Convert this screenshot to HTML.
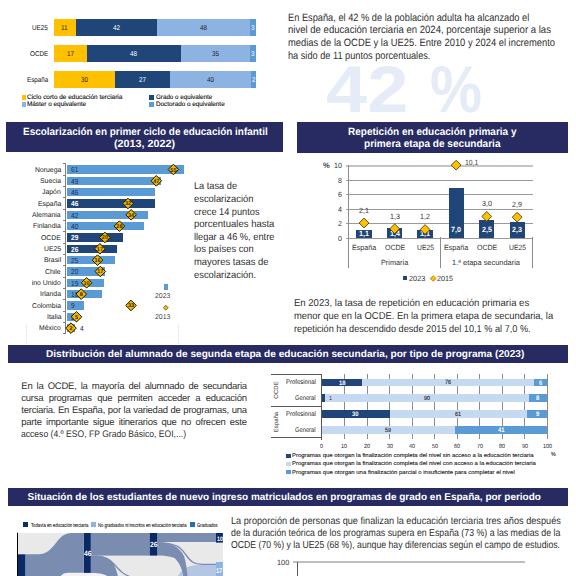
<!DOCTYPE html><html><head><meta charset="utf-8"><style>
html,body{margin:0;padding:0;width:576px;height:576px;overflow:hidden;background:#fff;font-family:"Liberation Sans", sans-serif;}
.t{position:absolute;white-space:nowrap;}
body{text-rendering:geometricPrecision;}
svg{position:absolute;left:0;top:0;}
</style></head><body>
<div class="t" style="left:32.49px;top:25.00px;font-size:7px;line-height:7px;color:#111;font-weight:normal;transform:scaleX(0.9000);transform-origin:0 0;">UE25</div>
<div style="position:absolute;left:54.00px;top:19.00px;width:21.50px;height:17.00px;background:#ffc000;"></div>
<div class="t" style="left:61.48px;top:25.00px;font-size:7px;line-height:7px;color:#222;font-weight:normal;transform:scaleX(0.9000);transform-origin:0 0;">11</div>
<div style="position:absolute;left:75.50px;top:19.00px;width:81.25px;height:17.00px;background:#1f4579;"></div>
<div class="t" style="left:112.62px;top:25.00px;font-size:7px;line-height:7px;color:#fff;font-weight:normal;transform:scaleX(0.9000);transform-origin:0 0;">42</div>
<div style="position:absolute;left:156.75px;top:19.00px;width:93.25px;height:17.00px;background:#8db3e2;"></div>
<div class="t" style="left:199.87px;top:25.00px;font-size:7px;line-height:7px;color:#222;font-weight:normal;transform:scaleX(0.9000);transform-origin:0 0;">48</div>
<div style="position:absolute;left:250.00px;top:19.00px;width:5.50px;height:17.00px;background:#5b9bd5;"></div>
<div class="t" style="left:251.00px;top:25.00px;font-size:7px;line-height:7px;color:#fff;font-weight:normal;transform:scaleX(0.9000);transform-origin:0 0;">3</div>
<div class="t" style="left:30.05px;top:51.00px;font-size:7px;line-height:7px;color:#111;font-weight:normal;transform:scaleX(0.9000);transform-origin:0 0;">OCDE</div>
<div style="position:absolute;left:54.00px;top:45.00px;width:32.75px;height:17.00px;background:#ffc000;"></div>
<div class="t" style="left:66.87px;top:51.00px;font-size:7px;line-height:7px;color:#222;font-weight:normal;transform:scaleX(0.9000);transform-origin:0 0;">17</div>
<div style="position:absolute;left:86.75px;top:45.00px;width:94.00px;height:17.00px;background:#1f4579;"></div>
<div class="t" style="left:130.25px;top:51.00px;font-size:7px;line-height:7px;color:#fff;font-weight:normal;transform:scaleX(0.9000);transform-origin:0 0;">48</div>
<div style="position:absolute;left:180.75px;top:45.00px;width:69.25px;height:17.00px;background:#8db3e2;"></div>
<div class="t" style="left:211.87px;top:51.00px;font-size:7px;line-height:7px;color:#222;font-weight:normal;transform:scaleX(0.9000);transform-origin:0 0;">35</div>
<div style="position:absolute;left:250.00px;top:45.00px;width:5.50px;height:17.00px;background:#5b9bd5;"></div>
<div class="t" style="left:251.00px;top:51.00px;font-size:7px;line-height:7px;color:#fff;font-weight:normal;transform:scaleX(0.9000);transform-origin:0 0;">3</div>
<div class="t" style="left:26.88px;top:77.00px;font-size:7px;line-height:7px;color:#111;font-weight:normal;transform:scaleX(0.9000);transform-origin:0 0;">España</div>
<div style="position:absolute;left:54.00px;top:71.00px;width:60.75px;height:17.00px;background:#ffc000;"></div>
<div class="t" style="left:80.87px;top:77.00px;font-size:7px;line-height:7px;color:#222;font-weight:normal;transform:scaleX(0.9000);transform-origin:0 0;">30</div>
<div style="position:absolute;left:114.75px;top:71.00px;width:55.25px;height:17.00px;background:#1f4579;"></div>
<div class="t" style="left:138.87px;top:77.00px;font-size:7px;line-height:7px;color:#fff;font-weight:normal;transform:scaleX(0.9000);transform-origin:0 0;">27</div>
<div style="position:absolute;left:170.00px;top:71.00px;width:81.00px;height:17.00px;background:#8db3e2;"></div>
<div class="t" style="left:207.00px;top:77.00px;font-size:7px;line-height:7px;color:#222;font-weight:normal;transform:scaleX(0.9000);transform-origin:0 0;">40</div>
<div style="position:absolute;left:251.00px;top:71.00px;width:4.50px;height:17.00px;background:#5b9bd5;"></div>
<div class="t" style="left:251.50px;top:77.00px;font-size:7px;line-height:7px;color:#fff;font-weight:normal;transform:scaleX(0.9000);transform-origin:0 0;">2</div>
<div style="position:absolute;left:22.00px;top:94.70px;width:3.90px;height:5.20px;background:#ffc000;"></div>
<div class="t" style="left:27.00px;top:95.00px;font-size:6.4px;line-height:6.4px;color:#111;font-weight:normal;transform:scaleX(1.0092);transform-origin:0 0;-webkit-text-stroke:0.12px #111;">Ciclo corto de educación terciaria</div>
<div style="position:absolute;left:22.00px;top:102.20px;width:3.90px;height:4.50px;background:#8db3e2;"></div>
<div class="t" style="left:27.00px;top:102.00px;font-size:6.4px;line-height:6.4px;color:#111;font-weight:normal;transform:scaleX(0.9973);transform-origin:0 0;-webkit-text-stroke:0.12px #111;">Máster o equivalente</div>
<div style="position:absolute;left:149.30px;top:94.70px;width:4.60px;height:5.20px;background:#1f4579;"></div>
<div class="t" style="left:155.50px;top:95.00px;font-size:6.4px;line-height:6.4px;color:#111;font-weight:normal;transform:scaleX(0.9759);transform-origin:0 0;-webkit-text-stroke:0.12px #111;">Grado o equivalente</div>
<div style="position:absolute;left:149.30px;top:102.20px;width:4.60px;height:4.50px;background:#5b9bd5;"></div>
<div class="t" style="left:155.50px;top:102.00px;font-size:6.4px;line-height:6.4px;color:#111;font-weight:normal;transform:scaleX(0.9909);transform-origin:0 0;-webkit-text-stroke:0.12px #111;">Doctorado o equivalente</div>
<div class="t" style="left:288.30px;top:13.00px;font-size:10.6px;line-height:10.6px;color:#303030;font-weight:normal;transform:scaleX(0.8734);transform-origin:0 0;">En España, el 42 % de la población adulta ha alcanzado el</div>
<div class="t" style="left:288.30px;top:25.00px;font-size:10.6px;line-height:10.6px;color:#303030;font-weight:normal;transform:scaleX(0.9020);transform-origin:0 0;">nivel de educación terciaria en 2024, porcentaje superior a las</div>
<div class="t" style="left:288.30px;top:38.00px;font-size:10.6px;line-height:10.6px;color:#303030;font-weight:normal;transform:scaleX(0.8857);transform-origin:0 0;">medias de la OCDE y la UE25. Entre 2010 y 2024 el incremento</div>
<div class="t" style="left:288.30px;top:51.00px;font-size:10.6px;line-height:10.6px;color:#303030;font-weight:normal;transform:scaleX(0.8677);transform-origin:0 0;">ha sido de 11 puntos porcentuales.</div>
<div class="t" style="left:326.00px;top:56.00px;font-size:66px;line-height:66px;color:#e5ecf7;font-weight:bold;transform:scaleX(1.1211);transform-origin:0 0;">42</div>
<div class="t" style="left:430.20px;top:56.00px;font-size:66px;line-height:66px;color:#e5ecf7;font-weight:bold;transform:scaleX(0.8878);transform-origin:0 0;">%</div>
<div style="position:absolute;left:6.00px;top:122.00px;width:277.00px;height:29.80px;background:#272b62;"></div>
<div class="t" style="left:23.10px;top:127.00px;font-size:10.5px;line-height:10.5px;color:#fff;font-weight:bold;transform:scaleX(0.9465);transform-origin:0 0;">Escolarización en primer ciclo de educación infantil</div>
<div class="t" style="left:114.25px;top:139.00px;font-size:10.5px;line-height:10.5px;color:#fff;font-weight:bold;transform:scaleX(1.0244);transform-origin:0 0;">(2013, 2022)</div>
<div style="position:absolute;left:297.00px;top:122.00px;width:270.75px;height:30.75px;background:#272b62;"></div>
<div class="t" style="left:348.00px;top:127.00px;font-size:10.5px;line-height:10.5px;color:#fff;font-weight:bold;transform:scaleX(0.9530);transform-origin:0 0;">Repetición en educación primaria y</div>
<div class="t" style="left:363.75px;top:139.00px;font-size:10.5px;line-height:10.5px;color:#fff;font-weight:bold;transform:scaleX(0.9586);transform-origin:0 0;">primera etapa de secundaria</div>
<div style="position:absolute;left:8.00px;top:345.00px;width:559.75px;height:17.50px;background:#272b62;"></div>
<div class="t" style="left:45.75px;top:350.00px;font-size:10px;line-height:10px;color:#fff;font-weight:bold;transform:scaleX(1.0114);transform-origin:0 0;">Distribución del alumnado de segunda etapa de educación secundaria, por tipo de programa (2023)</div>
<div style="position:absolute;left:8.00px;top:488.00px;width:559.75px;height:17.75px;background:#272b62;"></div>
<div class="t" style="left:27.50px;top:493.00px;font-size:10px;line-height:10px;color:#fff;font-weight:bold;">Situación de los estudiantes de nuevo ingreso matriculados en programas de grado en España, por periodo</div>
<div style="position:absolute;left:32.2px;top:150px;width:29.8px;height:190px;overflow:hidden;">
<div class="t" style="left:2.59px;top:17.00px;font-size:7px;line-height:7px;color:#1a1a1a;font-weight:normal;transform:scaleX(0.9800);transform-origin:0 0;">Noruega</div>
<div class="t" style="left:7.92px;top:28.00px;font-size:7px;line-height:7px;color:#1a1a1a;font-weight:normal;transform:scaleX(0.9800);transform-origin:0 0;">Suecia</div>
<div class="t" style="left:10.21px;top:39.00px;font-size:7px;line-height:7px;color:#1a1a1a;font-weight:normal;transform:scaleX(0.9800);transform-origin:0 0;">Japón</div>
<div class="t" style="left:5.63px;top:51.00px;font-size:7px;line-height:7px;color:#1a1a1a;font-weight:normal;transform:scaleX(0.9800);transform-origin:0 0;">España</div>
<div class="t" style="left:0.30px;top:62.00px;font-size:7px;line-height:7px;color:#1a1a1a;font-weight:normal;transform:scaleX(0.9800);transform-origin:0 0;">Alemania</div>
<div class="t" style="left:1.06px;top:73.00px;font-size:7px;line-height:7px;color:#1a1a1a;font-weight:normal;transform:scaleX(0.9800);transform-origin:0 0;">Finlandia</div>
<div class="t" style="left:9.08px;top:85.00px;font-size:7px;line-height:7px;color:#1a1a1a;font-weight:normal;transform:scaleX(0.9800);transform-origin:0 0;">OCDE</div>
<div class="t" style="left:11.74px;top:96.00px;font-size:7px;line-height:7px;color:#1a1a1a;font-weight:normal;transform:scaleX(0.9800);transform-origin:0 0;">UE25</div>
<div class="t" style="left:11.75px;top:107.00px;font-size:7px;line-height:7px;color:#1a1a1a;font-weight:normal;transform:scaleX(0.9800);transform-origin:0 0;">Brasil</div>
<div class="t" style="left:13.27px;top:119.00px;font-size:7px;line-height:7px;color:#1a1a1a;font-weight:normal;transform:scaleX(0.9800);transform-origin:0 0;">Chile</div>
<div class="t" style="left:-8.85px;top:130.00px;font-size:7px;line-height:7px;color:#1a1a1a;font-weight:normal;transform:scaleX(0.9800);transform-origin:0 0;">Reino Unido</div>
<div class="t" style="left:7.92px;top:141.00px;font-size:7px;line-height:7px;color:#1a1a1a;font-weight:normal;transform:scaleX(0.9800);transform-origin:0 0;">Irlanda</div>
<div class="t" style="left:-0.08px;top:153.00px;font-size:7px;line-height:7px;color:#1a1a1a;font-weight:normal;transform:scaleX(0.9800);transform-origin:0 0;">Colombia</div>
<div class="t" style="left:14.41px;top:164.00px;font-size:7px;line-height:7px;color:#1a1a1a;font-weight:normal;transform:scaleX(0.9800);transform-origin:0 0;">Italia</div>
<div class="t" style="left:7.17px;top:175.00px;font-size:7px;line-height:7px;color:#1a1a1a;font-weight:normal;transform:scaleX(0.9800);transform-origin:0 0;">México</div>
</div>
<div style="position:absolute;left:65.20px;top:163.80px;width:0.90px;height:169.80px;background:#7f7f7f;"></div>
<div style="position:absolute;left:63.00px;top:163.40px;width:2.50px;height:0.90px;background:#7f7f7f;"></div>
<div style="position:absolute;left:63.00px;top:174.73px;width:2.50px;height:0.90px;background:#7f7f7f;"></div>
<div style="position:absolute;left:63.00px;top:186.06px;width:2.50px;height:0.90px;background:#7f7f7f;"></div>
<div style="position:absolute;left:63.00px;top:197.39px;width:2.50px;height:0.90px;background:#7f7f7f;"></div>
<div style="position:absolute;left:63.00px;top:208.72px;width:2.50px;height:0.90px;background:#7f7f7f;"></div>
<div style="position:absolute;left:63.00px;top:220.05px;width:2.50px;height:0.90px;background:#7f7f7f;"></div>
<div style="position:absolute;left:63.00px;top:231.38px;width:2.50px;height:0.90px;background:#7f7f7f;"></div>
<div style="position:absolute;left:63.00px;top:242.71px;width:2.50px;height:0.90px;background:#7f7f7f;"></div>
<div style="position:absolute;left:63.00px;top:254.04px;width:2.50px;height:0.90px;background:#7f7f7f;"></div>
<div style="position:absolute;left:63.00px;top:265.37px;width:2.50px;height:0.90px;background:#7f7f7f;"></div>
<div style="position:absolute;left:63.00px;top:276.70px;width:2.50px;height:0.90px;background:#7f7f7f;"></div>
<div style="position:absolute;left:63.00px;top:288.03px;width:2.50px;height:0.90px;background:#7f7f7f;"></div>
<div style="position:absolute;left:63.00px;top:299.36px;width:2.50px;height:0.90px;background:#7f7f7f;"></div>
<div style="position:absolute;left:63.00px;top:310.69px;width:2.50px;height:0.90px;background:#7f7f7f;"></div>
<div style="position:absolute;left:63.00px;top:322.02px;width:2.50px;height:0.90px;background:#7f7f7f;"></div>
<div style="position:absolute;left:63.00px;top:333.35px;width:2.50px;height:0.90px;background:#7f7f7f;"></div>
<div style="position:absolute;left:66.70px;top:165.25px;width:117.23px;height:8.50px;background:#5b9bd5;"></div>
<div class="t" style="left:70.80px;top:166.00px;font-size:7.3px;line-height:7.3px;color:#1a2f55;font-weight:normal;transform:scaleX(0.9000);transform-origin:0 0;">61</div>
<div style="position:absolute;left:66.70px;top:176.58px;width:94.28px;height:8.50px;background:#5b9bd5;"></div>
<div class="t" style="left:70.80px;top:178.00px;font-size:7.3px;line-height:7.3px;color:#1a2f55;font-weight:normal;transform:scaleX(0.9000);transform-origin:0 0;">49</div>
<div style="position:absolute;left:66.70px;top:187.91px;width:88.54px;height:8.50px;background:#5b9bd5;"></div>
<div class="t" style="left:70.80px;top:189.00px;font-size:7.3px;line-height:7.3px;color:#1a2f55;font-weight:normal;transform:scaleX(0.9000);transform-origin:0 0;">46</div>
<div style="position:absolute;left:66.70px;top:199.24px;width:88.54px;height:8.50px;background:#1f4579;"></div>
<div class="t" style="left:70.80px;top:200.00px;font-size:7.3px;line-height:7.3px;color:#fff;font-weight:bold;transform:scaleX(0.9000);transform-origin:0 0;">46</div>
<div style="position:absolute;left:66.70px;top:210.57px;width:80.89px;height:8.50px;background:#5b9bd5;"></div>
<div class="t" style="left:70.80px;top:212.00px;font-size:7.3px;line-height:7.3px;color:#1a2f55;font-weight:normal;transform:scaleX(0.9000);transform-origin:0 0;">42</div>
<div style="position:absolute;left:66.70px;top:221.90px;width:77.06px;height:8.50px;background:#5b9bd5;"></div>
<div class="t" style="left:70.80px;top:223.00px;font-size:7.3px;line-height:7.3px;color:#1a2f55;font-weight:normal;transform:scaleX(0.9000);transform-origin:0 0;">40</div>
<div style="position:absolute;left:66.70px;top:233.23px;width:56.02px;height:8.50px;background:#1f4579;"></div>
<div class="t" style="left:70.80px;top:234.00px;font-size:7.3px;line-height:7.3px;color:#fff;font-weight:bold;transform:scaleX(0.9000);transform-origin:0 0;">29</div>
<div style="position:absolute;left:66.70px;top:244.56px;width:50.28px;height:8.50px;background:#1f4579;"></div>
<div class="t" style="left:70.80px;top:246.00px;font-size:7.3px;line-height:7.3px;color:#fff;font-weight:bold;transform:scaleX(0.9000);transform-origin:0 0;">26</div>
<div style="position:absolute;left:66.70px;top:255.89px;width:48.36px;height:8.50px;background:#5b9bd5;"></div>
<div class="t" style="left:70.80px;top:257.00px;font-size:7.3px;line-height:7.3px;color:#1a2f55;font-weight:normal;transform:scaleX(0.9000);transform-origin:0 0;">25</div>
<div style="position:absolute;left:66.70px;top:267.22px;width:38.80px;height:8.50px;background:#5b9bd5;"></div>
<div class="t" style="left:70.80px;top:268.00px;font-size:7.3px;line-height:7.3px;color:#1a2f55;font-weight:normal;transform:scaleX(0.9000);transform-origin:0 0;">20</div>
<div style="position:absolute;left:66.70px;top:278.55px;width:36.89px;height:8.50px;background:#5b9bd5;"></div>
<div class="t" style="left:70.80px;top:280.00px;font-size:7.3px;line-height:7.3px;color:#1a2f55;font-weight:normal;transform:scaleX(0.9000);transform-origin:0 0;">19</div>
<div style="position:absolute;left:66.70px;top:289.88px;width:34.97px;height:8.50px;background:#5b9bd5;"></div>
<div class="t" style="left:70.80px;top:291.00px;font-size:7.3px;line-height:7.3px;color:#1a2f55;font-weight:normal;transform:scaleX(0.9000);transform-origin:0 0;">18</div>
<div style="position:absolute;left:66.70px;top:301.21px;width:17.76px;height:8.50px;background:#5b9bd5;"></div>
<div class="t" style="left:70.80px;top:302.00px;font-size:7.3px;line-height:7.3px;color:#1a2f55;font-weight:normal;transform:scaleX(0.9000);transform-origin:0 0;">9</div>
<div style="position:absolute;left:66.70px;top:312.54px;width:10.11px;height:8.50px;background:#5b9bd5;"></div>
<div class="t" style="left:70.80px;top:314.00px;font-size:7.3px;line-height:7.3px;color:#1a2f55;font-weight:normal;transform:scaleX(0.9000);transform-origin:0 0;">5</div>
<div style="position:absolute;left:66.70px;top:323.87px;width:8.19px;height:8.50px;background:#5b9bd5;"></div>
<div class="t" style="left:79.60px;top:325.00px;font-size:7.3px;line-height:7.3px;color:#1a2f55;font-weight:normal;transform:scaleX(0.9000);transform-origin:0 0;">4</div>
<svg width="576" height="576" style="position:absolute;left:0;top:0"><polygon points="173.4,164.2 178.70000000000002,169.5 173.4,174.8 168.1,169.5" fill="#f2b600" stroke="#1e1800" stroke-width="1"/><text x="173.4" y="171.5" font-size="5.5" font-weight="bold" text-anchor="middle" fill="#2b2200" font-family="Liberation Sans">55</text><polygon points="156.25,175.53 161.55,180.83 156.25,186.13000000000002 150.95,180.83" fill="#f2b600" stroke="#1e1800" stroke-width="1"/><text x="156.25" y="182.83" font-size="5.5" font-weight="bold" text-anchor="middle" fill="#2b2200" font-family="Liberation Sans">47</text><polygon points="128,198.19 133.3,203.49 128,208.79000000000002 122.7,203.49" fill="#f2b600" stroke="#1e1800" stroke-width="1"/><text x="128" y="205.49" font-size="5.5" font-weight="bold" text-anchor="middle" fill="#2b2200" font-family="Liberation Sans">32</text><polygon points="131.1,209.51999999999998 136.4,214.82 131.1,220.12 125.8,214.82" fill="#f2b600" stroke="#1e1800" stroke-width="1"/><text x="131.1" y="216.82" font-size="5.5" font-weight="bold" text-anchor="middle" fill="#2b2200" font-family="Liberation Sans">34</text><polygon points="119.4,220.85 124.7,226.15 119.4,231.45000000000002 114.10000000000001,226.15" fill="#f2b600" stroke="#1e1800" stroke-width="1"/><text x="119.4" y="228.15" font-size="5.5" font-weight="bold" text-anchor="middle" fill="#2b2200" font-family="Liberation Sans">28</text><polygon points="104.9,232.18 110.2,237.48000000000002 104.9,242.78000000000003 99.60000000000001,237.48000000000002" fill="#f2b600" stroke="#1e1800" stroke-width="1"/><text x="104.9" y="239.48000000000002" font-size="5.5" font-weight="bold" text-anchor="middle" fill="#2b2200" font-family="Liberation Sans">20</text><polygon points="99.9,243.51 105.2,248.81 99.9,254.11 94.60000000000001,248.81" fill="#f2b600" stroke="#1e1800" stroke-width="1"/><text x="99.9" y="250.81" font-size="5.5" font-weight="bold" text-anchor="middle" fill="#2b2200" font-family="Liberation Sans">17</text><polygon points="97.5,254.83999999999997 102.8,260.14 97.5,265.44 92.2,260.14" fill="#f2b600" stroke="#1e1800" stroke-width="1"/><text x="97.5" y="262.14" font-size="5.5" font-weight="bold" text-anchor="middle" fill="#2b2200" font-family="Liberation Sans">16</text><polygon points="100.3,266.17 105.6,271.47 100.3,276.77000000000004 95.0,271.47" fill="#f2b600" stroke="#1e1800" stroke-width="1"/><text x="100.3" y="273.47" font-size="5.5" font-weight="bold" text-anchor="middle" fill="#2b2200" font-family="Liberation Sans">17</text><polygon points="86.6,277.5 91.89999999999999,282.8 86.6,288.1 81.3,282.8" fill="#f2b600" stroke="#1e1800" stroke-width="1"/><text x="86.6" y="284.8" font-size="5.5" font-weight="bold" text-anchor="middle" fill="#2b2200" font-family="Liberation Sans">10</text><polygon points="81.25,288.83 86.55,294.13 81.25,299.43 75.95,294.13" fill="#f2b600" stroke="#1e1800" stroke-width="1"/><text x="81.25" y="296.13" font-size="5.5" font-weight="bold" text-anchor="middle" fill="#2b2200" font-family="Liberation Sans">8</text><polygon points="131,300.16 136.3,305.46000000000004 131,310.76000000000005 125.7,305.46000000000004" fill="#f2b600" stroke="#1e1800" stroke-width="1"/><text x="131" y="307.46000000000004" font-size="5.5" font-weight="bold" text-anchor="middle" fill="#2b2200" font-family="Liberation Sans">33</text><polygon points="76.5,311.48999999999995 81.8,316.78999999999996 76.5,322.09 71.2,316.78999999999996" fill="#f2b600" stroke="#1e1800" stroke-width="1"/><text x="76.5" y="318.78999999999996" font-size="5.5" font-weight="bold" text-anchor="middle" fill="#2b2200" font-family="Liberation Sans">5</text><polygon points="71,322.82 76.3,328.12 71,333.42 65.7,328.12" fill="#f2b600" stroke="#1e1800" stroke-width="1"/><text x="71" y="330.12" font-size="5.5" font-weight="bold" text-anchor="middle" fill="#2b2200" font-family="Liberation Sans">2</text><polygon points="165.8,305.2 168.3,307.7 165.8,310.2 163.3,307.7" fill="#f5b800" stroke="#3a3000" stroke-width="0.6"/></svg>
<div style="position:absolute;left:163.80px;top:284.30px;width:4.60px;height:5.40px;background:#5b9bd5;"></div>
<div class="t" style="left:155.30px;top:293.00px;font-size:7px;line-height:7px;color:#444;font-weight:normal;transform:scaleX(0.9889);transform-origin:0 0;">2023</div>
<div class="t" style="left:155.30px;top:314.00px;font-size:7px;line-height:7px;color:#444;font-weight:normal;transform:scaleX(0.9889);transform-origin:0 0;">2013</div>
<div style="position:absolute;left:26.00px;top:325.00px;width:0.60px;height:19.00px;background:;border-left:0.6px dotted #d8dbe8;"></div>
<div style="position:absolute;left:178.40px;top:325.00px;width:0.60px;height:19.00px;background:;border-left:0.6px dotted #d8dbe8;"></div>
<div class="t" style="left:194.00px;top:182.00px;font-size:10px;line-height:10px;color:#303030;font-weight:normal;transform:scaleX(0.9207);transform-origin:0 0;">La tasa de</div>
<div class="t" style="left:194.00px;top:195.00px;font-size:10px;line-height:10px;color:#303030;font-weight:normal;transform:scaleX(0.9374);transform-origin:0 0;">escolarización</div>
<div class="t" style="left:194.00px;top:208.00px;font-size:10px;line-height:10px;color:#303030;font-weight:normal;transform:scaleX(0.9205);transform-origin:0 0;">crece 14 puntos</div>
<div class="t" style="left:194.00px;top:220.00px;font-size:10px;line-height:10px;color:#303030;font-weight:normal;transform:scaleX(0.9515);transform-origin:0 0;">porcentuales hasta</div>
<div class="t" style="left:194.00px;top:233.00px;font-size:10px;line-height:10px;color:#303030;font-weight:normal;transform:scaleX(0.9271);transform-origin:0 0;">llegar a 46 %, entre</div>
<div class="t" style="left:194.00px;top:245.00px;font-size:10px;line-height:10px;color:#303030;font-weight:normal;transform:scaleX(0.9347);transform-origin:0 0;">los países con</div>
<div class="t" style="left:194.00px;top:258.00px;font-size:10px;line-height:10px;color:#303030;font-weight:normal;transform:scaleX(0.9439);transform-origin:0 0;">mayores tasas de</div>
<div class="t" style="left:194.00px;top:271.00px;font-size:10px;line-height:10px;color:#303030;font-weight:normal;transform:scaleX(0.9374);transform-origin:0 0;">escolarización.</div>
<div style="position:absolute;left:345.50px;top:237.70px;width:187.10px;height:1.10px;background:#9a9a9a;"></div>
<div class="t" style="left:337.79px;top:235.00px;font-size:7.5px;line-height:7.5px;color:#333;font-weight:normal;transform:scaleX(0.9500);transform-origin:0 0;">0</div>
<div style="position:absolute;left:345.50px;top:223.23px;width:187.10px;height:1.10px;background:#9a9a9a;"></div>
<div class="t" style="left:337.79px;top:220.00px;font-size:7.5px;line-height:7.5px;color:#333;font-weight:normal;transform:scaleX(0.9500);transform-origin:0 0;">2</div>
<div style="position:absolute;left:345.50px;top:208.76px;width:187.10px;height:1.10px;background:#9a9a9a;"></div>
<div class="t" style="left:337.79px;top:206.00px;font-size:7.5px;line-height:7.5px;color:#333;font-weight:normal;transform:scaleX(0.9500);transform-origin:0 0;">4</div>
<div style="position:absolute;left:345.50px;top:194.29px;width:187.10px;height:1.10px;background:#9a9a9a;"></div>
<div class="t" style="left:337.79px;top:191.00px;font-size:7.5px;line-height:7.5px;color:#333;font-weight:normal;transform:scaleX(0.9500);transform-origin:0 0;">6</div>
<div style="position:absolute;left:345.50px;top:179.82px;width:187.10px;height:1.10px;background:#9a9a9a;"></div>
<div class="t" style="left:337.79px;top:177.00px;font-size:7.5px;line-height:7.5px;color:#333;font-weight:normal;transform:scaleX(0.9500);transform-origin:0 0;">8</div>
<div style="position:absolute;left:345.50px;top:165.05px;width:187.10px;height:1.60px;background:#c4c4c4;"></div>
<div class="t" style="left:333.82px;top:162.00px;font-size:7.5px;line-height:7.5px;color:#333;font-weight:normal;transform:scaleX(0.9500);transform-origin:0 0;">10</div>
<div class="t" style="left:322.82px;top:162.00px;font-size:8px;line-height:8px;color:#404040;font-weight:bold;transform:scaleX(0.9500);transform-origin:0 0;">%</div>
<div style="position:absolute;left:348.20px;top:165.00px;width:0.80px;height:102.80px;background:#8c8c8c;"></div>
<div style="position:absolute;left:440.10px;top:237.20px;width:0.80px;height:30.60px;background:#8c8c8c;"></div>
<div style="position:absolute;left:532.20px;top:237.20px;width:0.80px;height:30.60px;background:#8c8c8c;"></div>
<div style="position:absolute;left:356.40px;top:230.24px;width:15.30px;height:7.96px;background:#1f4579;"></div>
<div class="t" style="left:359.10px;top:230.00px;font-size:7.5px;line-height:7.5px;color:#fff;font-weight:bold;transform:scaleX(0.9500);transform-origin:0 0;">1,1</div>
<div class="t" style="left:351.90px;top:244.00px;font-size:7.5px;line-height:7.5px;color:#333;font-weight:normal;transform:scaleX(0.9553);transform-origin:0 0;">España</div>
<div class="t" style="left:359.10px;top:207.00px;font-size:7.5px;line-height:7.5px;color:#333;font-weight:normal;transform:scaleX(0.9500);transform-origin:0 0;">2,1</div>
<div style="position:absolute;left:387.00px;top:228.07px;width:15.30px;height:10.13px;background:#1f4579;"></div>
<div class="t" style="left:389.70px;top:230.00px;font-size:7.5px;line-height:7.5px;color:#fff;font-weight:bold;transform:scaleX(0.9500);transform-origin:0 0;">1,4</div>
<div class="t" style="left:384.55px;top:244.00px;font-size:7.5px;line-height:7.5px;color:#333;font-weight:normal;transform:scaleX(0.9322);transform-origin:0 0;">OCDE</div>
<div class="t" style="left:389.70px;top:213.00px;font-size:7.5px;line-height:7.5px;color:#333;font-weight:normal;transform:scaleX(0.9500);transform-origin:0 0;">1,3</div>
<div style="position:absolute;left:417.40px;top:230.24px;width:15.30px;height:7.96px;background:#1f4579;"></div>
<div class="t" style="left:420.10px;top:230.00px;font-size:7.5px;line-height:7.5px;color:#fff;font-weight:bold;transform:scaleX(0.9500);transform-origin:0 0;">1,1</div>
<div class="t" style="left:416.55px;top:244.00px;font-size:7.5px;line-height:7.5px;color:#333;font-weight:normal;transform:scaleX(0.9061);transform-origin:0 0;">UE25</div>
<div class="t" style="left:420.10px;top:213.00px;font-size:7.5px;line-height:7.5px;color:#333;font-weight:normal;transform:scaleX(0.9500);transform-origin:0 0;">1,2</div>
<div style="position:absolute;left:448.50px;top:187.55px;width:15.30px;height:50.65px;background:#1f4579;"></div>
<div class="t" style="left:451.20px;top:226.00px;font-size:7.5px;line-height:7.5px;color:#fff;font-weight:bold;transform:scaleX(0.9500);transform-origin:0 0;">7,0</div>
<div class="t" style="left:444.00px;top:244.00px;font-size:7.5px;line-height:7.5px;color:#333;font-weight:normal;transform:scaleX(0.9553);transform-origin:0 0;">España</div>
<div style="position:absolute;left:479.10px;top:220.11px;width:15.30px;height:18.09px;background:#1f4579;"></div>
<div class="t" style="left:481.80px;top:226.00px;font-size:7.5px;line-height:7.5px;color:#fff;font-weight:bold;transform:scaleX(0.9500);transform-origin:0 0;">2,5</div>
<div class="t" style="left:476.65px;top:244.00px;font-size:7.5px;line-height:7.5px;color:#333;font-weight:normal;transform:scaleX(0.9322);transform-origin:0 0;">OCDE</div>
<div class="t" style="left:481.80px;top:200.00px;font-size:7.5px;line-height:7.5px;color:#333;font-weight:normal;transform:scaleX(0.9500);transform-origin:0 0;">3,0</div>
<div style="position:absolute;left:509.50px;top:221.56px;width:15.30px;height:16.64px;background:#1f4579;"></div>
<div class="t" style="left:512.20px;top:226.00px;font-size:7.5px;line-height:7.5px;color:#fff;font-weight:bold;transform:scaleX(0.9500);transform-origin:0 0;">2,3</div>
<div class="t" style="left:508.65px;top:244.00px;font-size:7.5px;line-height:7.5px;color:#333;font-weight:normal;transform:scaleX(0.9061);transform-origin:0 0;">UE25</div>
<div class="t" style="left:512.20px;top:201.00px;font-size:7.5px;line-height:7.5px;color:#333;font-weight:normal;transform:scaleX(0.9500);transform-origin:0 0;">2,9</div>
<div class="t" style="left:464.50px;top:159.00px;font-size:7.5px;line-height:7.5px;color:#404040;font-weight:normal;transform:scaleX(0.9077);transform-origin:0 0;">10,1</div>
<svg width="576" height="576" style="position:absolute;left:0;top:0"><polygon points="364.04999999999995,218.10649999999998 368.94999999999993,223.0065 364.04999999999995,227.9065 359.15,223.0065" fill="#ffc000" stroke="#3b3000" stroke-width="0.8"/><polygon points="394.65,223.8945 399.54999999999995,228.7945 394.65,233.6945 389.75,228.7945" fill="#ffc000" stroke="#3b3000" stroke-width="0.8"/><polygon points="425.04999999999995,224.618 429.94999999999993,229.518 425.04999999999995,234.418 420.15,229.518" fill="#ffc000" stroke="#3b3000" stroke-width="0.8"/><polygon points="456.15,160.2265 461.04999999999995,165.1265 456.15,170.0265 451.25,165.1265" fill="#ffc000" stroke="#3b3000" stroke-width="0.8"/><polygon points="486.75,211.59499999999997 491.65,216.49499999999998 486.75,221.39499999999998 481.85,216.49499999999998" fill="#ffc000" stroke="#3b3000" stroke-width="0.8"/><polygon points="517.15,212.31849999999997 522.05,217.21849999999998 517.15,222.11849999999998 512.25,217.21849999999998" fill="#ffc000" stroke="#3b3000" stroke-width="0.8"/><polygon points="433.2,275.8 436.2,278.5 433.2,281.2 430.2,278.5" fill="#ffc000" stroke="#7f6000" stroke-width="0.6"/></svg>
<div class="t" style="left:380.70px;top:259.00px;font-size:7.5px;line-height:7.5px;color:#333;font-weight:normal;transform:scaleX(0.9742);transform-origin:0 0;">Primaria</div>
<div class="t" style="left:452.40px;top:259.00px;font-size:7.5px;line-height:7.5px;color:#333;font-weight:normal;transform:scaleX(0.9904);transform-origin:0 0;">1.ª etapa secundaria</div>
<div style="position:absolute;left:403.30px;top:276.30px;width:4.10px;height:4.10px;background:#1f4579;"></div>
<div class="t" style="left:408.90px;top:275.00px;font-size:7.5px;line-height:7.5px;color:#333;font-weight:normal;transform:scaleX(0.9769);transform-origin:0 0;">2023</div>
<div class="t" style="left:437.00px;top:275.00px;font-size:7.5px;line-height:7.5px;color:#333;font-weight:normal;transform:scaleX(0.9590);transform-origin:0 0;">2015</div>
<div class="t" style="left:294.25px;top:299.00px;font-size:10px;line-height:10px;color:#303030;font-weight:normal;transform:scaleX(0.9527);transform-origin:0 0;">En 2023, la tasa de repetición en educación primaria es</div>
<div class="t" style="left:294.25px;top:312.00px;font-size:10px;line-height:10px;color:#303030;font-weight:normal;transform:scaleX(0.9399);transform-origin:0 0;">menor que en la OCDE. En la primera etapa de secundaria, la</div>
<div class="t" style="left:294.25px;top:325.00px;font-size:10px;line-height:10px;color:#303030;font-weight:normal;transform:scaleX(0.9174);transform-origin:0 0;">repetición ha descendido desde 2015 del 10,1 % al 7,0 %.</div>
<div class="t" style="left:21.3px;top:382px;width:225.50px;font-size:9.5px;line-height:9.5px;color:#303030;text-align:justify;text-align-last:justify;white-space:normal;letter-spacing:-0.25px">En la OCDE, la mayoría del alumnado de secundaria</div>
<div class="t" style="left:21.3px;top:394px;width:225.50px;font-size:9.5px;line-height:9.5px;color:#303030;text-align:justify;text-align-last:justify;white-space:normal;letter-spacing:-0.25px">cursa programas que permiten acceder a educación</div>
<div class="t" style="left:21.3px;top:406px;width:225.50px;font-size:9.5px;line-height:9.5px;color:#303030;text-align:justify;text-align-last:justify;white-space:normal;letter-spacing:-0.25px">terciaria. En España, por la variedad de programas, una</div>
<div class="t" style="left:21.3px;top:418px;width:225.50px;font-size:9.5px;line-height:9.5px;color:#303030;text-align:justify;text-align-last:justify;white-space:normal;letter-spacing:-0.25px">parte importante sigue itinerarios que no ofrecen este</div>
<div class="t" style="left:21.30px;top:430.00px;font-size:9.5px;line-height:9.5px;color:#303030;font-weight:normal;transform:scaleX(0.9026);transform-origin:0 0;">acceso (4.º ESO, FP Grado Básico, EOI,...)</div>
<div style="position:absolute;left:321.05px;top:374.25px;width:0.70px;height:65.25px;background:#595959;"></div>
<div class="t" style="left:320.40px;top:444.00px;font-size:6px;line-height:6px;color:#222;font-weight:normal;transform:scaleX(0.9000);transform-origin:0 0;">0</div>
<div style="position:absolute;left:344.09px;top:374.25px;width:0.70px;height:64.35px;background:#8c8c8c;"></div>
<div class="t" style="left:341.44px;top:444.00px;font-size:6px;line-height:6px;color:#222;font-weight:normal;transform:scaleX(0.9000);transform-origin:0 0;">10</div>
<div style="position:absolute;left:366.64px;top:374.25px;width:0.70px;height:64.35px;background:#8c8c8c;"></div>
<div class="t" style="left:363.99px;top:444.00px;font-size:6px;line-height:6px;color:#222;font-weight:normal;transform:scaleX(0.9000);transform-origin:0 0;">20</div>
<div style="position:absolute;left:389.18px;top:374.25px;width:0.70px;height:64.35px;background:#8c8c8c;"></div>
<div class="t" style="left:386.53px;top:444.00px;font-size:6px;line-height:6px;color:#222;font-weight:normal;transform:scaleX(0.9000);transform-origin:0 0;">30</div>
<div style="position:absolute;left:411.73px;top:374.25px;width:0.70px;height:64.35px;background:#8c8c8c;"></div>
<div class="t" style="left:409.08px;top:444.00px;font-size:6px;line-height:6px;color:#222;font-weight:normal;transform:scaleX(0.9000);transform-origin:0 0;">40</div>
<div style="position:absolute;left:434.27px;top:374.25px;width:0.70px;height:64.35px;background:#8c8c8c;"></div>
<div class="t" style="left:431.62px;top:444.00px;font-size:6px;line-height:6px;color:#222;font-weight:normal;transform:scaleX(0.9000);transform-origin:0 0;">50</div>
<div style="position:absolute;left:456.82px;top:374.25px;width:0.70px;height:64.35px;background:#8c8c8c;"></div>
<div class="t" style="left:454.17px;top:444.00px;font-size:6px;line-height:6px;color:#222;font-weight:normal;transform:scaleX(0.9000);transform-origin:0 0;">60</div>
<div style="position:absolute;left:479.36px;top:374.25px;width:0.70px;height:64.35px;background:#8c8c8c;"></div>
<div class="t" style="left:476.71px;top:444.00px;font-size:6px;line-height:6px;color:#222;font-weight:normal;transform:scaleX(0.9000);transform-origin:0 0;">70</div>
<div style="position:absolute;left:501.91px;top:374.25px;width:0.70px;height:64.35px;background:#8c8c8c;"></div>
<div class="t" style="left:499.26px;top:444.00px;font-size:6px;line-height:6px;color:#222;font-weight:normal;transform:scaleX(0.9000);transform-origin:0 0;">80</div>
<div style="position:absolute;left:524.46px;top:374.25px;width:0.70px;height:64.35px;background:#8c8c8c;"></div>
<div class="t" style="left:521.80px;top:444.00px;font-size:6px;line-height:6px;color:#222;font-weight:normal;transform:scaleX(0.9000);transform-origin:0 0;">90</div>
<div style="position:absolute;left:547.00px;top:374.25px;width:0.70px;height:64.35px;background:#8c8c8c;"></div>
<div class="t" style="left:542.85px;top:444.00px;font-size:6px;line-height:6px;color:#222;font-weight:normal;transform:scaleX(0.9000);transform-origin:0 0;">100</div>
<div class="t" style="left:551.20px;top:452.00px;font-size:6px;line-height:6px;color:#404040;font-weight:bold;transform:scaleX(0.9000);transform-origin:0 0;">%</div>
<div style="position:absolute;left:271.00px;top:373.90px;width:50.90px;height:0.70px;background:#595959;"></div>
<div style="position:absolute;left:271.00px;top:405.90px;width:50.90px;height:0.70px;background:#595959;"></div>
<div style="position:absolute;left:271.00px;top:437.10px;width:50.90px;height:0.70px;background:#595959;"></div>
<div style="position:absolute;left:321.90px;top:378.80px;width:40.58px;height:7.10px;background:#1f4579;"></div>
<div style="position:absolute;left:362.48px;top:378.80px;width:171.34px;height:7.10px;background:#c5d9f1;"></div>
<div style="position:absolute;left:533.82px;top:378.80px;width:13.53px;height:7.10px;background:#5b9bd5;"></div>
<div class="t" style="left:338.94px;top:381.00px;font-size:6.5px;line-height:6.5px;color:#fff;font-weight:bold;transform:scaleX(0.9000);transform-origin:0 0;">18</div>
<div class="t" style="left:445.15px;top:380.00px;font-size:6px;line-height:6px;color:#111;font-weight:normal;transform:scaleX(0.9000);transform-origin:0 0;-webkit-text-stroke:0.1px #111;">76</div>
<div class="t" style="left:538.96px;top:381.00px;font-size:6.5px;line-height:6.5px;color:#fff;font-weight:bold;transform:scaleX(0.9000);transform-origin:0 0;">6</div>
<div style="position:absolute;left:321.90px;top:394.10px;width:2.71px;height:7.65px;background:#1f4579;"></div>
<div style="position:absolute;left:324.61px;top:394.10px;width:204.26px;height:7.65px;background:#c5d9f1;"></div>
<div style="position:absolute;left:528.86px;top:394.10px;width:18.49px;height:7.65px;background:#5b9bd5;"></div>
<div class="t" style="left:328.60px;top:396.00px;font-size:6px;line-height:6px;color:#333;font-weight:normal;transform:scaleX(0.9000);transform-origin:0 0;">1</div>
<div class="t" style="left:423.73px;top:396.00px;font-size:6px;line-height:6px;color:#111;font-weight:normal;transform:scaleX(0.9000);transform-origin:0 0;-webkit-text-stroke:0.1px #111;">90</div>
<div class="t" style="left:536.48px;top:396.00px;font-size:6.5px;line-height:6.5px;color:#fff;font-weight:bold;transform:scaleX(0.9000);transform-origin:0 0;">8</div>
<div style="position:absolute;left:321.90px;top:410.40px;width:67.63px;height:7.20px;background:#1f4579;"></div>
<div style="position:absolute;left:389.53px;top:410.40px;width:137.52px;height:7.20px;background:#c5d9f1;"></div>
<div style="position:absolute;left:527.06px;top:410.40px;width:20.29px;height:7.20px;background:#5b9bd5;"></div>
<div class="t" style="left:352.46px;top:412.00px;font-size:6.5px;line-height:6.5px;color:#fff;font-weight:bold;transform:scaleX(0.9000);transform-origin:0 0;">30</div>
<div class="t" style="left:455.29px;top:412.00px;font-size:6px;line-height:6px;color:#111;font-weight:normal;transform:scaleX(0.9000);transform-origin:0 0;-webkit-text-stroke:0.1px #111;">61</div>
<div class="t" style="left:535.58px;top:412.00px;font-size:6.5px;line-height:6.5px;color:#fff;font-weight:bold;transform:scaleX(0.9000);transform-origin:0 0;">9</div>
<div style="position:absolute;left:321.90px;top:426.00px;width:133.02px;height:7.60px;background:#c5d9f1;"></div>
<div style="position:absolute;left:454.92px;top:426.00px;width:92.43px;height:7.60px;background:#5b9bd5;"></div>
<div class="t" style="left:385.40px;top:428.00px;font-size:6px;line-height:6px;color:#111;font-weight:normal;transform:scaleX(0.9000);transform-origin:0 0;-webkit-text-stroke:0.1px #111;">59</div>
<div class="t" style="left:497.88px;top:428.00px;font-size:6.5px;line-height:6.5px;color:#fff;font-weight:bold;transform:scaleX(0.9000);transform-origin:0 0;">41</div>
<div class="t" style="left:286.00px;top:380.00px;font-size:6.8px;line-height:6.8px;color:#1a1a1a;font-weight:normal;transform:scaleX(0.8789);transform-origin:0 0;">Profesional</div>
<div class="t" style="left:295.40px;top:396.00px;font-size:6.8px;line-height:6.8px;color:#1a1a1a;font-weight:normal;transform:scaleX(0.8474);transform-origin:0 0;">General</div>
<div class="t" style="left:286.00px;top:412.00px;font-size:6.8px;line-height:6.8px;color:#1a1a1a;font-weight:normal;transform:scaleX(0.8789);transform-origin:0 0;">Profesional</div>
<div class="t" style="left:295.40px;top:428.00px;font-size:6.8px;line-height:6.8px;color:#1a1a1a;font-weight:normal;transform:scaleX(0.8474);transform-origin:0 0;">General</div>
<div class="t" style="left:276.6px;top:390.2px;font-size:6px;line-height:6px;color:#333;transform:translate(-50%,-50%) rotate(-90deg);">OCDE</div>
<div class="t" style="left:276.6px;top:422.1px;font-size:6px;line-height:6px;color:#333;transform:translate(-50%,-50%) rotate(-90deg);">España</div>
<div style="position:absolute;left:285.90px;top:453.50px;width:5.00px;height:4.20px;background:#1f4579;"></div>
<div class="t" style="left:292.20px;top:454.00px;font-size:5.5px;line-height:5.5px;color:#111;font-weight:normal;transform:scaleX(1.0810);transform-origin:0 0;-webkit-text-stroke:0.1px #111;">Programas que otorgan la finalización completa del nivel sin acceso a la educación terciaria</div>
<div style="position:absolute;left:285.90px;top:461.70px;width:5.00px;height:4.20px;background:#c5d9f1;"></div>
<div class="t" style="left:292.20px;top:462.00px;font-size:5.5px;line-height:5.5px;color:#111;font-weight:normal;transform:scaleX(1.0820);transform-origin:0 0;-webkit-text-stroke:0.1px #111;">Programas que otorgan la finalización completa del nivel con acceso a la educación terciaria</div>
<div style="position:absolute;left:285.90px;top:469.90px;width:5.00px;height:4.20px;background:#5b9bd5;"></div>
<div class="t" style="left:292.20px;top:471.00px;font-size:5.5px;line-height:5.5px;color:#111;font-weight:normal;transform:scaleX(1.0840);transform-origin:0 0;-webkit-text-stroke:0.1px #111;">Programas que otorgan una finalización parcial o insuficiente para completar el nivel</div>
<svg width="576" height="576" style="position:absolute;left:0;top:0"><rect x="17.5" y="533" width="205.4" height="43" fill="#e9e9e9"/><path d="M25.3,554.3 L38,554.3 C56,554.3 55,533 72,533 L83.9,533 L83.9,576 L25.3,576 Z" fill="#7a8db0"/><path d="M61,576 C62.5,573.5 65,572.8 70,572.8 L100,572.8 C104,572.8 106,574 107,576 Z" fill="#f3f3f3"/><rect x="90.8" y="533" width="58.6" height="22.6" fill="#7a8db0"/><path d="M90.8,555.6 C103,555.6 109,557 113,563 C115.5,567 117,572 117.8,576 L107,576 C105.5,574.5 101,572.9 90.8,572.9 Z" fill="#7a8db0"/><path d="M90.8,556.1 C104,556.1 108,558 114,564 C120,571 124,575 131,577" fill="none" stroke="#7a8db0" stroke-width="1.2"/><rect x="157.2" y="533" width="58.8" height="9" fill="#7a8db0"/><path d="M177.8,576 C183,568 190,564.8 200,564.8 L216,564.8 L216,576 Z" fill="#b3c6e3"/><path d="M157.2,542 C172,542 180,548 184,556 C186,562 187,570 187.5,576 L183.3,576 C182,568 178.5,561.5 174.5,558 C169,556 163,555.5 157.2,555.5 Z" fill="#7a8db0"/><path d="M157.2,542.8 C178,542.8 181,548 186,555 C191,562 194,564.3 203,564.3 L216,564.3" fill="none" stroke="#7a8db0" stroke-width="1.3"/><rect x="17.7" y="554.3" width="7.6" height="22" fill="#0a2a66"/><rect x="84.0" y="533" width="6.8" height="39.9" fill="#0a2a66"/><rect x="149.6" y="533" width="7.6" height="22.6" fill="#0a2a66"/><rect x="216" y="533" width="6.9" height="9.6" fill="#0a2a66"/><rect x="216" y="562" width="6.9" height="14" fill="#8db3e2"/><rect x="17" y="532.7" width="1" height="44" fill="#000"/></svg>
<div class="t" style="left:83.60px;top:550.00px;font-size:7.5px;line-height:7.5px;color:#fff;font-weight:bold;transform:scaleX(0.9000);transform-origin:0 0;">46</div>
<div class="t" style="left:149.65px;top:541.00px;font-size:7.5px;line-height:7.5px;color:#fff;font-weight:bold;transform:scaleX(0.9000);transform-origin:0 0;">26</div>
<div class="t" style="left:216.61px;top:537.00px;font-size:6.5px;line-height:6.5px;color:#fff;font-weight:bold;transform:scaleX(0.8000);transform-origin:0 0;">10</div>
<div class="t" style="left:216.39px;top:568.00px;font-size:7px;line-height:7px;color:#fff;font-weight:bold;transform:scaleX(0.8000);transform-origin:0 0;">17</div>
<div style="position:absolute;left:23.20px;top:522.20px;width:4.70px;height:4.50px;background:#0e2d66;"></div>
<div class="t" style="left:31.00px;top:524.00px;font-size:5.5px;line-height:5.5px;color:#111;font-weight:normal;transform:scaleX(0.7681);transform-origin:0 0;-webkit-text-stroke:0.1px #111;">Todavía en educación terciaria</div>
<div style="position:absolute;left:91.20px;top:522.20px;width:4.70px;height:4.50px;background:#8db3e2;"></div>
<div class="t" style="left:97.90px;top:524.00px;font-size:5.5px;line-height:5.5px;color:#111;font-weight:normal;transform:scaleX(0.7547);transform-origin:0 0;-webkit-text-stroke:0.1px #111;">No graduados ni inscritos en educación terciaria</div>
<div style="position:absolute;left:190.10px;top:522.20px;width:4.70px;height:4.50px;background:#1f6fc0;"></div>
<div class="t" style="left:197.00px;top:524.00px;font-size:5.5px;line-height:5.5px;color:#111;font-weight:normal;transform:scaleX(0.7607);transform-origin:0 0;-webkit-text-stroke:0.1px #111;">Graduados</div>
<div class="t" style="left:230.90px;top:517.00px;font-size:10.2px;line-height:10.2px;color:#303030;font-weight:normal;transform:scaleX(0.9001);transform-origin:0 0;">La proporción de personas que finalizan la educación terciaria tres años después</div>
<div class="t" style="left:230.90px;top:529.00px;font-size:10.2px;line-height:10.2px;color:#303030;font-weight:normal;transform:scaleX(0.8617);transform-origin:0 0;">de la duración teórica de los programas supera en España (73 %) a las medias de la</div>
<div class="t" style="left:230.90px;top:541.00px;font-size:10.2px;line-height:10.2px;color:#303030;font-weight:normal;transform:scaleX(0.8531);transform-origin:0 0;">OCDE (70 %) y la UE25 (68 %), aunque hay diferencias según el campo de estudios.</div>
<div class="t" style="left:277.20px;top:559.00px;font-size:7.5px;line-height:7.5px;color:#333;font-weight:normal;transform:scaleX(0.9749);transform-origin:0 0;">100</div>
<div style="position:absolute;left:293.40px;top:561.30px;width:231.40px;height:1.30px;background:#bfbfbf;"></div>
<div style="position:absolute;left:297.10px;top:562.00px;width:0.90px;height:14.00px;background:#595959;"></div>
</body></html>
